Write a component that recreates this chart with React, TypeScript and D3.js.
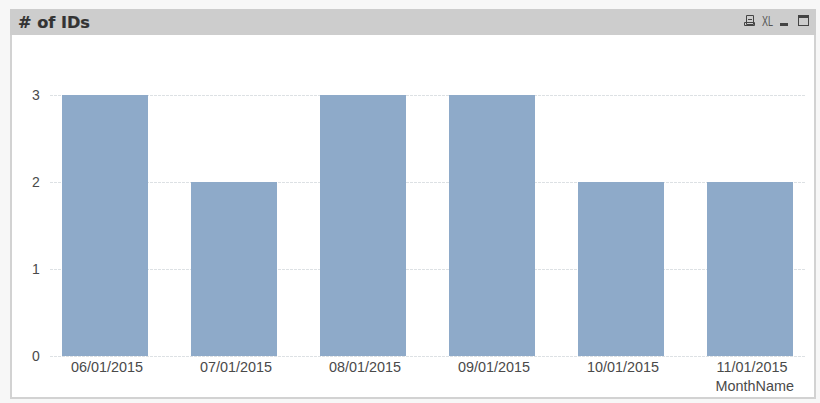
import React from "react";
import * as d3 from "d3";

const months = ["06/01/2015", "07/01/2015", "08/01/2015", "09/01/2015", "10/01/2015", "11/01/2015"];
const ids = [3, 2, 3, 3, 2, 2];
const yTicks = [0, 1, 2, 3];
const title = "# of IDs";
const xTitle = "MonthName";

export default function App() {
  const x = d3.scaleBand<string>().domain(months).range([19, 836]).paddingInner(1 / 3).paddingOuter(1 / 3);
  const y = d3.scaleLinear().domain([0, 3]).range([356, 95]);
  const font = "'Liberation Sans', Arial, sans-serif";
  return (
    <svg width={820} height={403} style={{ position: "fixed", left: 0, top: 0, display: "block" }}>
      <rect x={0} y={0} width={820} height={403} fill="#f7f7f7" />
      <rect x={10} y={9} width={806} height={390} fill="#d2d2d2" />
      <rect x={12} y={35} width={802} height={362} fill="#ffffff" />
      <rect x={10} y={9} width={806} height={26} fill="#cdcdcd" />
      <text x={18} y={27.5} fontFamily="'DejaVu Sans', Verdana, sans-serif" fontWeight={700} fontSize={16.5} fill="#333333" stroke="#333333" strokeWidth={0.2} textLength={72} lengthAdjust="spacingAndGlyphs">{title}</text>

      {/* caption icons */}
      <g fill="none" stroke="#444444" strokeWidth={1}>
        <path d="M746.5 15.5h7v9h-7zM744.5 22.5h10v3h-10zM748 19.5h4" />
        <rect x={798.5} y={15.5} width={10} height={10} />
      </g>
      <rect x={798} y={15} width={11} height={3} fill="#444444" />
      <rect x={780} y={23} width={8} height={3} fill="#444444" />
      <text x={762} y={25.5} fontFamily={font} fontSize={14} fill="#555555" textLength={11} lengthAdjust="spacingAndGlyphs">XL</text>

      {yTicks.map((t) => (
        <g key={t}>
          <line x1={50} x2={805} y1={y(t) + 0.5} y2={y(t) + 0.5} stroke="#dde1e4" strokeDasharray="3 1" />
          <text x={36} y={y(t) + 5} textAnchor="middle" fontFamily={font} fontSize={14} fill="#4a4a4a">{t}</text>
        </g>
      ))}

      {months.map((m, i) => (
        <g key={m}>
          <rect x={x(m)} y={y(ids[i])} width={x.bandwidth()} height={y(0) - y(ids[i])} fill="#8eaac9" />
          <text x={x(m)! + x.bandwidth() / 2 + 2} y={372} textAnchor="middle" fontFamily={font} fontSize={14.4} fill="#4a4a4a">{m}</text>
        </g>
      ))}
      <text x={794} y={391} textAnchor="end" fontFamily={font} fontSize={14.4} fill="#4a4a4a">{xTitle}</text>
    </svg>
  );
}
